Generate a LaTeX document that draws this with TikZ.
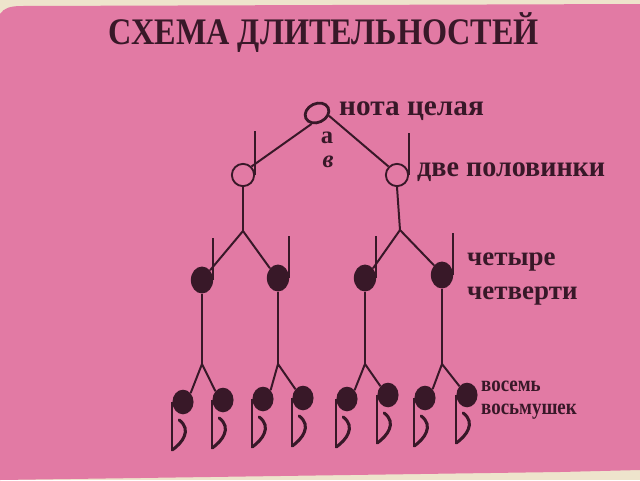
\documentclass[tikz,border=0pt]{standalone}
\usepackage{fontspec}
\setmainfont{Liberation Serif}
\usetikzlibrary{shapes.geometric}

\begin{document}
\begin{tikzpicture}[x=0.3mm,y=-0.3mm]
% Colours of the old printed page
\definecolor{paper}{RGB}{238,228,204}
\definecolor{pinkpage}{RGB}{226,122,164}
\definecolor{inkc}{RGB}{56,24,40}
\tikzset{
  ink/.style={draw=inkc,line width=1.7pt},
  whole/.style={ellipse,draw=inkc,line width=2.4pt,minimum width=21,minimum height=16,inner sep=0pt,rotate=25},
  half/.style={circle,draw=inkc,line width=1.6pt,minimum size=19,inner sep=0pt},
  quarter/.style={ellipse,fill=inkc,minimum width=19,minimum height=23,inner sep=0pt},
  eighth/.style={ellipse,fill=inkc,minimum width=18,minimum height=21,inner sep=0pt},
  lbl/.style={text=inkc,font=\bfseries\fontsize{25}{25}\selectfont,anchor=west,inner sep=0pt},
}
% Page and pink sheet
\fill[paper] (0,0) rectangle (640,480);
\fill[pinkpage] (0,14) .. controls (4,8) and (10,6) .. (22,6) -- (640,4)
  -- (640,470) -- (560,472) -- (0,480) -- cycle;
% Title
\node[text=inkc,font=\bfseries\fontsize{32}{32}\selectfont,xscale=0.86] (title) at (324,33) {СХЕМА ДЛИТЕЛЬНОСТЕЙ};

% Whole note
\node[whole] (w) at (317,113) {};
\node[lbl] (wl) at (339,111) {нота целая};
\node[text=inkc,font=\bfseries\fontsize{21}{21}\selectfont] (la) at (327,138) {а};
\node[text=inkc,font=\bfseries\itshape\fontsize{21}{21}\selectfont] (lv) at (328,162) {в};

% Two halves
\node[half] (h1) at (243,175) {};
\node[half] (h2) at (397,175) {};
\draw[ink] (h1.east) -- ++(0,-44);
\draw[ink] (h2.east) -- ++(0,-42);
\draw[ink] (w.south west) -- (h1.north east);
\draw[ink] (w.south east) -- (h2.north west);
\node[lbl,xscale=0.96] (hl) at (417,172) {две половинки};

% Four quarters
\coordinate (b1) at (243,231);
\coordinate (b2) at (400,230);
\foreach \i/\x/\y in {1/202/280,2/278/278,3/365/278,4/442/275}{
  \node[quarter] (q\i) at (\x,\y) {};
  \draw[ink] (q\i.east) -- ++(0,-42);
  \coordinate (c\i) at (\x,364);
  \draw[ink] (q\i.south) -- (c\i);
}
\draw[ink] (h1.south) -- (b1) (h2.south) -- (b2);
\draw[ink] (b1) -- (q1.north east) (b1) -- (q2.north west);
\draw[ink] (b2) -- (q3.north east) (b2) -- (q4.north west);
\node[lbl,font=\bfseries\fontsize{23}{23}\selectfont] (ql1) at (467,262) {четыре};
\node[lbl,font=\bfseries\fontsize{23}{23}\selectfont] (ql2) at (467,296) {четверти};

% Eight eighths
\foreach \i/\x/\y in {1/183/402,2/223/400,3/263/399,4/303/398,5/347/399,6/388/395,7/425/398,8/467/395}{
  \node[eighth] (e\i) at (\x,\y) {};
  \draw[ink] (e\i.west) -- ++(0,48) coordinate (f\i);
  \begin{scope}[shift={(f\i)}]
    \draw[ink,line width=2.6pt,line cap=round] (0,0) .. controls (10,-7) and (20,-20) .. (7,-30);
  \end{scope}
}
\draw[ink] (c1) -- (e1.north east) (c1) -- (e2.north west);
\draw[ink] (c2) -- (e3.north east) (c2) -- (e4.north west);
\draw[ink] (c3) -- (e5.north east) (c3) -- (e6.north west);
\draw[ink] (c4) -- (e7.north east) (c4) -- (e8.north west);
\node[lbl,font=\bfseries\fontsize{19}{19}\selectfont,xscale=0.85] (el1) at (481,386) {восемь};
\node[lbl,font=\bfseries\fontsize{19}{19}\selectfont,xscale=0.85] (el2) at (481,412) {восьмушек};
\end{tikzpicture}
\end{document}
